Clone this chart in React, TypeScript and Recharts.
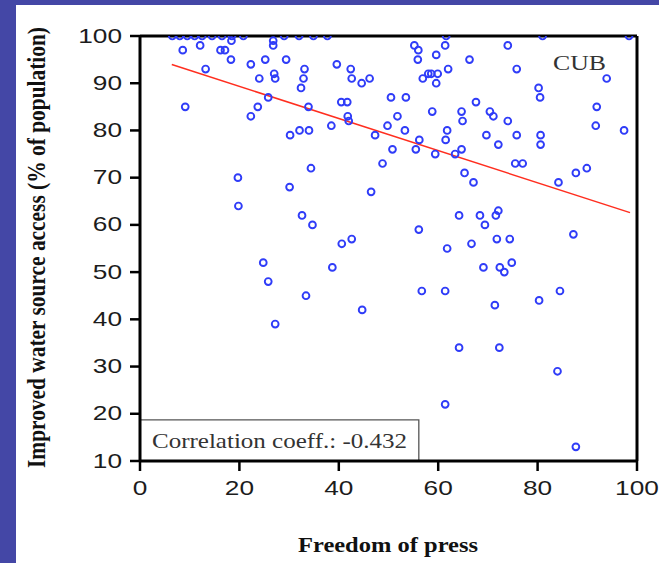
import React from "react";
import {
  ScatterChart,
  Scatter,
  XAxis,
  YAxis,
  ReferenceLine,
  ReferenceArea,
} from "recharts";

// Freedom of press (x) vs improved water source access (y)
const pressX: number[] = [
  6.5, 8, 9.5, 11, 12.5, 14.5, 16.5, 18.5, 20.8, 29, 32, 34.9, 37.7, 61.6, 81, 98.4,
  8.6, 12.1, 16.2, 17.1, 18.4, 18.3, 22.3, 25.2, 13.2, 24, 9.1, 23.7, 22.3, 25.8, 19.7, 19.8,
  26.8, 26.8, 29.4, 27, 27.2, 33.1, 32.9, 32.4, 33.9, 30.2, 32.1, 34, 38.5, 30.1, 32.6, 34.7,
  24.8, 25.8, 33.4, 27.2, 34.4, 39.6, 42.4, 42.6, 44.6, 46.2, 40.5, 41.7, 41.8, 42, 50.5, 53.5,
  51.8, 49.8, 53.3, 47.3, 50.8, 48.8, 46.5, 40.6, 42.6, 38.7, 44.7, 55.2, 56, 61.4, 55.9, 59.6,
  66.3, 62, 56.9, 58, 58.6, 59.9, 59.6, 58.8, 64.7, 64.9, 67.6, 70.4, 71.1, 74, 56.2, 61.8,
  61.5, 55.5, 59.4, 63.4, 64.7, 69.7, 72.1, 65.3, 67.1, 64.2, 68.4, 71.6, 72.1, 69.4, 56.1, 61.8,
  66.7, 71.8, 74.4, 69.1, 72.4, 73.3, 74.8, 56.7, 61.4, 71.4, 64.2, 72.3, 61.4, 74, 75.8, 80.2,
  80.5, 93.9, 91.9, 91.7, 97.4, 75.8, 80.6, 80.6, 75.5, 77, 84.2, 87.7, 89.9, 87.2, 80.3, 84.5,
  84, 87.7,
];
const waterY: number[] = [
  100, 100, 100, 100, 100, 100, 100, 100, 100, 100, 100, 100, 100, 100, 100, 100,
  97, 98, 97, 97, 99, 95, 94, 95, 93, 91, 85, 85, 83, 87, 70, 64,
  99, 98, 95, 92, 91, 93, 91, 89, 85, 79, 80, 80, 81, 68, 62, 60,
  52, 48, 45, 39, 72, 94, 93, 91, 90, 91, 86, 86, 83, 82, 87, 87,
  83, 81, 80, 79, 76, 73, 67, 56, 57, 51, 42, 98, 97, 98, 95, 96,
  95, 93, 91, 92, 92, 92, 90, 84, 84, 82, 86, 84, 83, 82, 78, 80,
  78, 76, 75, 75, 76, 79, 77, 71, 69, 62, 62, 62, 63, 60, 59, 55,
  56, 57, 57, 51, 51, 50, 52, 46, 46, 43, 34, 34, 22, 98, 93, 89,
  87, 91, 85, 81, 80, 79, 79, 77, 73, 73, 69, 71, 72, 58, 44, 46,
  29, 13,
];

// regression line end points
const fitX: number[] = [6.4, 98.6];
const fitY: number[] = [93.95, 62.6];

const xTicks: number[] = [0, 20, 40, 60, 80, 100];
const yTicks: number[] = [10, 20, 30, 40, 50, 60, 70, 80, 90, 100];

const corrLabel = "Correlation coeff.: -0.432";
const corrBox = { x1: 0, x2: 56.1, y1: 10, y2: 18.7 };
const pointLabel = "CUB";

const data = pressX.map((x, i) => ({ x, y: waterY[i] }));

const SANS = "'Liberation Sans', Arial, sans-serif";
const SERIF = "'Liberation Serif', 'Times New Roman', serif";
const STRETCH = 1.25;

const XTick = (props: any) => {
  const { x, y, payload } = props;
  const s = String(payload.value);
  return (
    <text
      x={x}
      y={y + 22}
      textAnchor="middle"
      fontFamily={SANS}
      fontSize={21}
      fill="#1c1c1c"
      textLength={s.length * 0.556 * 21 * STRETCH}
      lengthAdjust="spacingAndGlyphs"
    >
      {s}
    </text>
  );
};

const YTick = (props: any) => {
  const { x, y, payload } = props;
  const s = String(payload.value);
  return (
    <text
      x={x - 6}
      y={y + 6.5}
      textAnchor="end"
      fontFamily={SANS}
      fontSize={21}
      fill="#1c1c1c"
      textLength={s.length * 0.556 * 21 * STRETCH}
      lengthAdjust="spacingAndGlyphs"
    >
      {s}
    </text>
  );
};

const Ring = (props: any) => {
  const { cx, cy } = props;
  if (cx == null || cy == null) return null;
  return (
    <circle cx={cx} cy={cy} r={3.4} fill="none" stroke="#2f3cf8" strokeWidth={1.9} />
  );
};

const CorrContent = (props: any) => {
  const vb = props.viewBox || {};
  return (
    <text
      x={vb.x + 12}
      y={vb.y + 28}
      fontFamily={SERIF}
      fontSize={21}
      fill="#333"
      textLength={255}
      lengthAdjust="spacingAndGlyphs"
    >
      {corrLabel}
    </text>
  );
};

export default function App() {
  return (
    <div
      style={{
        position: "absolute",
        left: 0,
        top: 0,
        width: 659,
        height: 563,
        background: "#4447a6",
        overflow: "hidden",
      }}
    >
      <div
        style={{
          position: "absolute",
          left: 16,
          top: 5,
          width: 643,
          height: 558,
          background: "#ffffff",
        }}
      />
      <div style={{ position: "absolute", left: 0, top: 0 }}>
        <ScatterChart
          width={659}
          height={563}
          margin={{ top: 36, right: 22, bottom: 62, left: 0 }}
        >
          <XAxis
            type="number"
            dataKey="x"
            domain={[0, 100]}
            ticks={xTicks}
            height={40}
            axisLine={{ stroke: "#000", strokeWidth: 3 }}
            tickLine={{ stroke: "#000", strokeWidth: 2.5 }}
            tickSize={10}
            tick={XTick}
            interval={0}
            allowDataOverflow
          />
          <YAxis
            type="number"
            dataKey="y"
            domain={[10, 100]}
            ticks={yTicks}
            width={140}
            axisLine={{ stroke: "#000", strokeWidth: 3 }}
            tickLine={{ stroke: "#000", strokeWidth: 2.5 }}
            tickSize={10}
            tick={YTick}
            interval={0}
            allowDataOverflow
          />
          <ReferenceArea
            x1={corrBox.x1}
            x2={corrBox.x2}
            y1={corrBox.y1}
            y2={corrBox.y2}
            fill="#fff"
            fillOpacity={1}
            stroke="#555"
            strokeWidth={1.3}
            label={{ content: CorrContent }}
          />
          <ReferenceLine
            segment={[
              { x: fitX[0], y: fitY[0] },
              { x: fitX[1], y: fitY[1] },
            ]}
            stroke="#ff2e1f"
            strokeWidth={1.5}
          />
          <Scatter data={data} shape={Ring} isAnimationActive={false} />
          <ReferenceLine y={100} stroke="#000" strokeWidth={3} />
          <ReferenceLine x={100} stroke="#000" strokeWidth={3} />
        </ScatterChart>
      </div>
      <svg
        width={659}
        height={563}
        style={{ position: "absolute", left: 0, top: 0, pointerEvents: "none" }}
      >
        <text
          transform="translate(45,247.5) scale(1.2,1) rotate(-90)"
          textAnchor="middle"
          fontFamily={SERIF}
          fontWeight="bold"
          fontSize={21}
          fill="#111"
          textLength={441}
          lengthAdjust="spacingAndGlyphs"
        >
          Improved water source access (% of population)
        </text>
        <text
          x={388}
          y={552}
          textAnchor="middle"
          fontFamily={SERIF}
          fontWeight="bold"
          fontSize={21}
          fill="#111"
          textLength={180}
          lengthAdjust="spacingAndGlyphs"
        >
          Freedom of press
        </text>
        <text
          x={553}
          y={69.5}
          fontFamily={SERIF}
          fontSize={21.5}
          fill="#333"
          textLength={53}
          lengthAdjust="spacingAndGlyphs"
        >
          {pointLabel}
        </text>
      </svg>
    </div>
  );
}
